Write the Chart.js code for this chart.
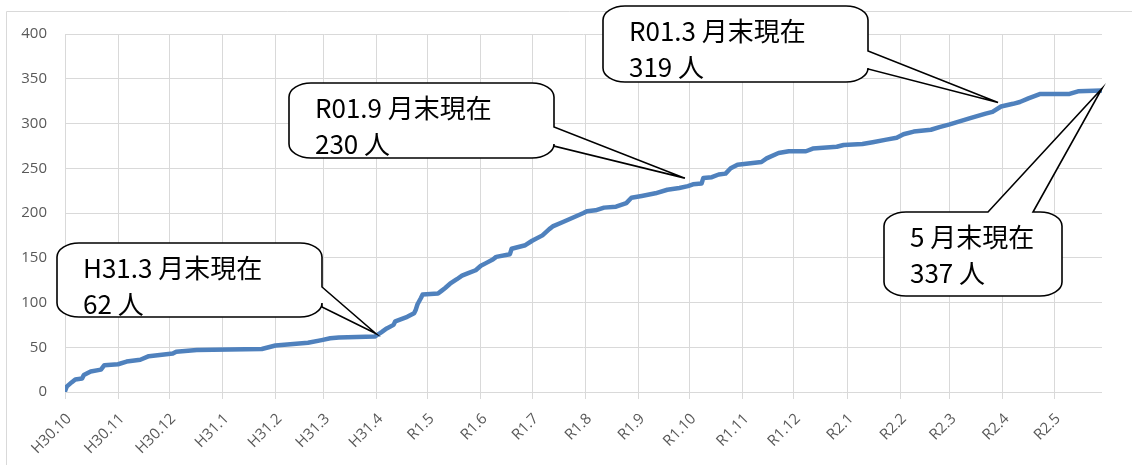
<!DOCTYPE html>
<html>
<head>
<meta charset="utf-8">
<script src="https://cdn.jsdelivr.net/npm/chart.js@4.4.1/dist/chart.umd.min.js"></script>
<style>
    html, body { margin: 0; padding: 0; background: #fff; }
    #wrap { width: 1132px; height: 465px; position: relative; }
</style>
</head>
<body>
<div id="wrap"><canvas id="myChart"></canvas></div>
<script>
// cumulative count
var dates = [
    '2018-10-01', '2018-10-02', '2018-10-05', '2018-10-07', '2018-10-11', '2018-10-12', '2018-10-16', '2018-10-22', '2018-10-24',
    '2018-11-01', '2018-11-06', '2018-11-14', '2018-11-19',
    '2018-12-03', '2018-12-05', '2018-12-17',
    '2019-01-24', '2019-01-28',
    '2019-02-01', '2019-02-20', '2019-02-28',
    '2019-03-05', '2019-03-10', '2019-03-31',
    '2019-04-04', '2019-04-07', '2019-04-11', '2019-04-12', '2019-04-19', '2019-04-23', '2019-04-24', '2019-04-25', '2019-04-27', '2019-04-28',
    '2019-05-07', '2019-05-09', '2019-05-11', '2019-05-14', '2019-05-18', '2019-05-21', '2019-05-25', '2019-05-29',
    '2019-06-01', '2019-06-04', '2019-06-08', '2019-06-10', '2019-06-18', '2019-06-19', '2019-06-27',
    '2019-07-01', '2019-07-07', '2019-07-11', '2019-07-13', '2019-07-19', '2019-07-25', '2019-07-31',
    '2019-08-02', '2019-08-07', '2019-08-12', '2019-08-19', '2019-08-25', '2019-08-28',
    '2019-09-03', '2019-09-11', '2019-09-18', '2019-09-25', '2019-09-30',
    '2019-10-03', '2019-10-08', '2019-10-09', '2019-10-14', '2019-10-18', '2019-10-22', '2019-10-25', '2019-10-29',
    '2019-11-12', '2019-11-15', '2019-11-22', '2019-11-28',
    '2019-12-08', '2019-12-12', '2019-12-26', '2019-12-30',
    '2020-01-10', '2020-01-16', '2020-01-24', '2020-01-30',
    '2020-02-03', '2020-02-09', '2020-02-19', '2020-02-24',
    '2020-03-01', '2020-03-13', '2020-03-22', '2020-03-26', '2020-03-31',
    '2020-04-07', '2020-04-11', '2020-04-16', '2020-04-23',
    '2020-05-10', '2020-05-15', '2020-05-29'
];
var counts = [
    1, 6, 11, 14, 15, 19, 23, 25, 30,
    31, 34, 36, 40,
    43, 45, 47,
    48, 50,
    52, 55, 58,
    60, 61, 62,
    67, 71, 75, 79, 84, 88, 92, 98, 105, 109,
    110, 113, 116, 121, 126, 130, 133, 136,
    141, 144, 148, 151, 154, 160, 164,
    169, 175, 182, 185, 190, 195, 200,
    202, 203, 206, 207, 211, 217,
    219, 222, 226, 228, 230,
    232, 233, 239, 240, 243, 244, 250, 254,
    257, 261, 267, 269,
    269, 272, 274, 276,
    277, 279, 282, 284,
    288, 291, 293, 296,
    299, 306, 311, 313, 319,
    322, 324, 328, 333,
    333, 336, 337
];

var tickDates = [
    '2018-10-01', '2018-11-01', '2018-12-01', '2019-01-01', '2019-02-01', '2019-03-01', '2019-04-01',
    '2019-05-01', '2019-06-01', '2019-07-01', '2019-08-01', '2019-09-01', '2019-10-01', '2019-11-01',
    '2019-12-01', '2020-01-01', '2020-02-01', '2020-03-01', '2020-04-01', '2020-05-01'
];
var tickLabels = [
    'H30.10', 'H30.11', 'H30.12', 'H31.1', 'H31.2', 'H31.3', 'H31.4',
    'R1.5', 'R1.6', 'R1.7', 'R1.8', 'R1.9', 'R1.10', 'R1.11',
    'R1.12', 'R2.1', 'R2.2', 'R2.3', 'R2.4', 'R2.5'
];
var yTicks = [0, 50, 100, 150, 200, 250, 300, 350, 400];

// callouts: text and the point they refer to
var calloutText = [
    ['H31.3 月末現在', '62 人'],
    ['R01.9 月末現在', '230 人'],
    ['R01.3 月末現在', '319 人'],
    ['5 月末現在', '337 人']
];
var calloutDates = ['2019-03-31', '2019-09-30', '2020-03-31', '2020-05-29'];
var calloutValues = [62, 230, 319, 337];

// callout layout (pixels)
var calloutBoxes = [
    { l: 57, t: 243, r: 322, b: 317, side: 'right', w0: 287, w1: 307, dx: 1, dy: -3 },
    { l: 289, t: 83, r: 554, b: 158, side: 'right', w0: 127, w1: 146, dx: -3, dy: -8 },
    { l: 603, t: 6, r: 868, b: 82, side: 'right', w0: 51, w1: 69, dx: -3, dy: -4 },
    { l: 884, t: 212, r: 1062, b: 296, side: 'top', w0: 988, w1: 1033, dx: 0, dy: -2 }
];

var day0 = Date.parse(dates[0]);
function dayOf(s) {
    return (Date.parse(s) - day0) / 864e5;
}

var points = dates.map(function (d, i) {
    return { x: dayOf(d), y: counts[i] };
});
var tickDays = tickDates.map(dayOf);

var borderPlugin = {
    id: 'frame',
    beforeDraw: function (chart) {
        var ctx = chart.ctx;
        ctx.save();
        ctx.strokeStyle = '#d9d9d9';
        ctx.lineWidth = 1;
        ctx.beginPath();
        ctx.moveTo(6.5, chart.height);
        ctx.lineTo(6.5, 11.5);
        ctx.lineTo(chart.width, 11.5);
        ctx.stroke();
        ctx.restore();
    }
};

function calloutPath(ctx, b, tx, ty) {
    var rx = 22, ry = 14;
    ctx.beginPath();
    ctx.moveTo(b.l + rx, b.t);
    if (b.side === 'top') {
        ctx.lineTo(b.w0, b.t);
        ctx.lineTo(tx, ty);
        ctx.lineTo(b.w1, b.t);
    }
    ctx.lineTo(b.r - rx, b.t);
    ctx.ellipse(b.r - rx, b.t + ry, rx, ry, 0, -Math.PI / 2, 0);
    if (b.side === 'right') {
        ctx.lineTo(b.r, b.w0);
        ctx.lineTo(tx, ty);
        ctx.lineTo(b.r, b.w1);
    }
    ctx.lineTo(b.r, b.b - ry);
    ctx.ellipse(b.r - rx, b.b - ry, rx, ry, 0, 0, Math.PI / 2);
    ctx.lineTo(b.l + rx, b.b);
    ctx.ellipse(b.l + rx, b.b - ry, rx, ry, 0, Math.PI / 2, Math.PI);
    ctx.lineTo(b.l, b.t + ry);
    ctx.ellipse(b.l + rx, b.t + ry, rx, ry, 0, Math.PI, Math.PI * 1.5);
    ctx.closePath();
}

var calloutPlugin = {
    id: 'callouts',
    afterDatasetsDraw: function (chart) {
        var ctx = chart.ctx;
        var xs = chart.scales.x, ys = chart.scales.y;
        ctx.save();
        calloutBoxes.forEach(function (b, i) {
            var tx = xs.getPixelForValue(dayOf(calloutDates[i])) + b.dx;
            var ty = ys.getPixelForValue(calloutValues[i]) + b.dy;
            calloutPath(ctx, b, tx, ty);
            ctx.fillStyle = '#fff';
            ctx.fill();
            ctx.strokeStyle = '#000';
            ctx.lineWidth = 1.6;
            ctx.lineJoin = 'miter';
            ctx.stroke();
            ctx.fillStyle = '#000';
            ctx.font = '26px "Noto Sans CJK JP", sans-serif';
            ctx.textAlign = 'left';
            ctx.textBaseline = 'alphabetic';
            ctx.fillText(calloutText[i][0], b.l + 26, b.t + 35);
            ctx.fillText(calloutText[i][1], b.l + 26, b.t + 71);
        });
        ctx.restore();
    }
};

const ctx = document.getElementById('myChart').getContext('2d');
const myChart = new Chart(ctx, {
    type: 'line',
    data: {
        datasets: [{
            data: points,
            borderColor: '#4f81bd',
            backgroundColor: '#4f81bd',
            borderWidth: 4.5,
            pointRadius: 0,
            tension: 0,
            borderJoinStyle: 'round',
            borderCapStyle: 'round',
        }],
    },
    options: {
        responsive: true,
        maintainAspectRatio: false,
        animation: false,
        layout: {
            padding: { left: 0, top: 34, right: 30, bottom: 0 }
        },
        plugins: {
            legend: { display: false },
            tooltip: { enabled: false }
        },
        scales: {
            x: {
                type: 'linear',
                min: 0,
                max: dayOf(dates[dates.length - 1]),
                afterBuildTicks: function (scale) {
                    scale.ticks = tickDays.map(function (v) { return { value: v }; });
                },
                afterFit: function (scale) {
                    scale.height = 73;
                    scale.paddingLeft = 0;
                    scale.paddingRight = 0;
                },
                ticks: {
                    autoSkip: false,
                    maxRotation: 45,
                    minRotation: 45,
                    padding: 11,
                    labelOffset: 4,
                    color: '#595959',
                    font: { family: 'Open Sans', size: 15 },
                    callback: function (v, i) { return tickLabels[i]; }
                },
                grid: {
                    color: '#d9d9d9',
                    lineWidth: 1,
                    drawTicks: true,
                    tickLength: 7
                },
                border: { display: false }
            },
            y: {
                min: 0,
                max: 400,
                afterBuildTicks: function (scale) {
                    scale.ticks = yTicks.map(function (v) { return { value: v }; });
                },
                afterFit: function (scale) {
                    scale.width = 65;
                },
                ticks: {
                    padding: 18,
                    color: '#595959',
                    font: { family: 'Open Sans', size: 15 }
                },
                grid: {
                    color: '#d9d9d9',
                    lineWidth: 1,
                    drawTicks: false
                },
                border: { display: false }
            }
        }
    },
    plugins: [borderPlugin, calloutPlugin]
});
</script>
</body>
</html>
